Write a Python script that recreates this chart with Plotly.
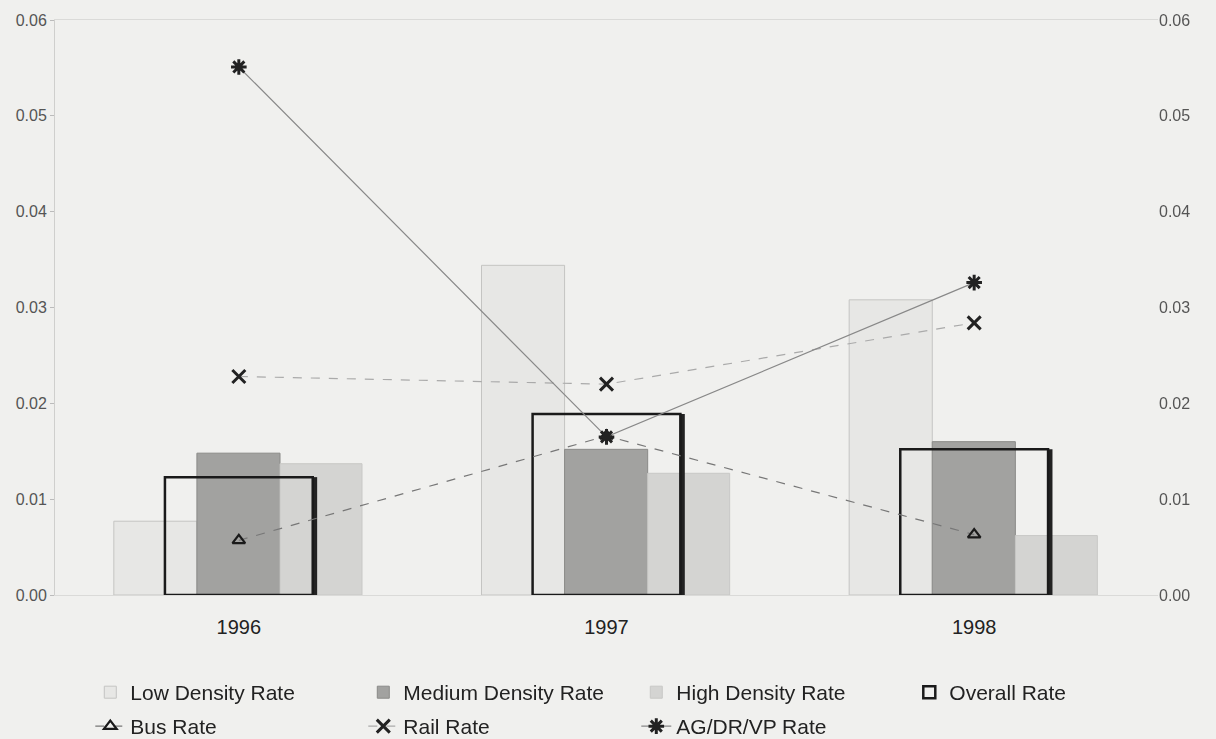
import plotly.graph_objects as go

# Rates
years = ['1996', '1997', '1998']
low_density = [0.0077, 0.0344, 0.0308]
medium_density = [0.0148, 0.0152, 0.0160]
high_density = [0.0137, 0.0127, 0.0062]
overall = [0.0123, 0.0189, 0.0152]
bus_rate = [0.0057, 0.0166, 0.0063]
rail_rate = [0.0228, 0.0220, 0.0284]
agdrvp_rate = [0.0551, 0.0165, 0.0326]

tick_vals = [0, 0.01, 0.02, 0.03, 0.04, 0.05, 0.06]
tick_text = ['0.00', '0.01', '0.02', '0.03', '0.04', '0.05', '0.06']

font = 'Liberation Sans, Arial, sans-serif'
bg = '#f0f0ee'

fig = go.Figure()

# density bars, placed side by side around each year
fig.add_trace(go.Bar(x=years, y=low_density, name='Low Density Rate',
                     offset=-0.34, width=0.226,
                     marker=dict(color='#e7e7e5', line=dict(color='#c4c4c2', width=1)),
                     legend='legend'))
fig.add_trace(go.Bar(x=years, y=medium_density, name='Medium Density Rate',
                     offset=-0.114, width=0.226,
                     marker=dict(color='#a2a2a0', line=dict(color='#8a8a88', width=1)),
                     legend='legend'))
fig.add_trace(go.Bar(x=years, y=high_density, name='High Density Rate',
                     offset=0.112, width=0.223,
                     marker=dict(color='#d4d4d2', line=dict(color='#c8c8c6', width=1)),
                     legend='legend'))

# shadow on the right of the overall box
fig.add_trace(go.Bar(x=years, y=overall, showlegend=False, hoverinfo='skip',
                     offset=0.199, width=0.014,
                     marker=dict(color='#222222', line=dict(width=0))))
# overall rate: hollow box
fig.add_trace(go.Bar(x=years, y=overall, name='Overall Rate',
                     offset=-0.201, width=0.402,
                     marker=dict(color='rgba(0,0,0,0)', line=dict(color='#1a1a1a', width=2.5)),
                     legend='legend'))

# rate lines
fig.add_trace(go.Scatter(x=years, y=bus_rate, name='Bus Rate', mode='lines+markers',
                         line=dict(color='#777777', width=1.2, dash='dash'),
                         marker=dict(symbol='triangle-up-open', size=11, color='#1a1a1a',
                                     line=dict(width=2.2, color='#1a1a1a')),
                         legend='legend2'))
fig.add_trace(go.Scatter(x=years, y=rail_rate, name='Rail Rate', mode='lines+markers',
                         line=dict(color='#aaaaaa', width=1.2, dash='dash'),
                         marker=dict(symbol='x-thin-open', size=13, color='#222222',
                                     line=dict(width=3, color='#222222')),
                         legend='legend2'))
fig.add_trace(go.Scatter(x=years, y=agdrvp_rate, name='AG/DR/VP Rate', mode='lines+markers',
                         line=dict(color='#888888', width=1.2),
                         marker=dict(symbol='asterisk-open', size=13, color='#222222',
                                     line=dict(width=3, color='#222222')),
                         legend='legend2'))

# invisible copy to bring up the right-hand axis
fig.add_trace(go.Scatter(x=years, y=overall, yaxis='y2', mode='markers', opacity=0,
                         showlegend=False, hoverinfo='skip'))

legend_common = dict(orientation='h', x=0.032, xanchor='left', yanchor='top',
                     entrywidth=228, entrywidthmode='pixels', bgcolor='rgba(0,0,0,0)',
                     font=dict(size=21, color='#222222'), traceorder='normal')

fig.update_layout(
    width=1216, height=739,
    margin=dict(l=55, r=58, t=20, b=144, autoexpand=False),
    paper_bgcolor=bg, plot_bgcolor=bg,
    barmode='overlay',
    font=dict(family=font, color='#333333'),
    xaxis=dict(type='category', showgrid=False, zeroline=False, showline=True,
               linecolor='#dadad8', mirror=True, ticklabelstandoff=14,
               ticks='', tickfont=dict(size=20, color='#222222'), range=[-0.5, 2.5]),
    yaxis=dict(range=[0, 0.06], tickvals=tick_vals, ticktext=tick_text,
               showgrid=False, zeroline=False, showline=True, linecolor='#cfcfcd',
               linewidth=1, ticks='outside', ticklen=4, tickcolor='#bbbbbb',
               tickfont=dict(size=16, color='#555555')),
    yaxis2=dict(range=[0, 0.06], tickvals=tick_vals, ticktext=tick_text, overlaying='y',
                side='right', showgrid=False, zeroline=False, showline=False,
                tickfont=dict(size=16, color='#555555')),
    legend=dict(legend_common, y=-0.134),
    legend2=dict(legend_common, y=-0.193),
    showlegend=True,
)

fig.write_html("out.html", config={'displayModeBar': False},
               post_script="document.body.style.margin='0';")
